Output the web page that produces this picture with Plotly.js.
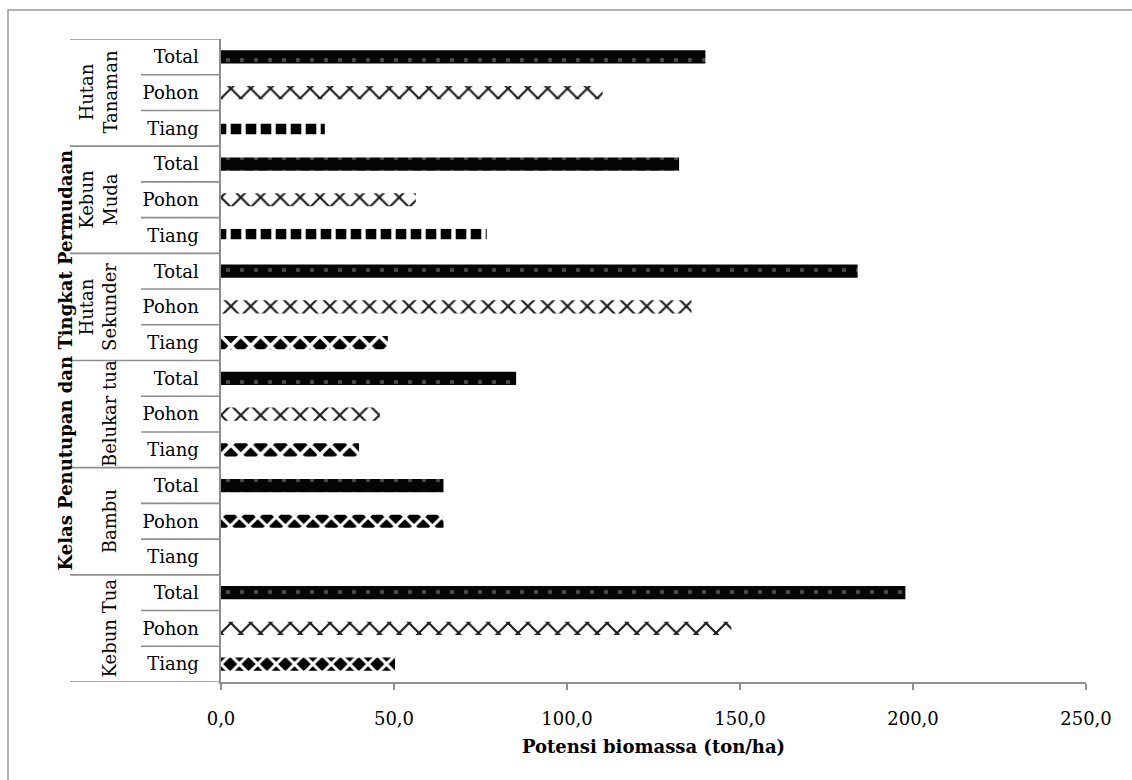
<!DOCTYPE html>
<html>
<head>
<meta charset="utf-8">
<script src="https://cdn.plot.ly/plotly-3.0.1.min.js"></script>
<style>html,body{margin:0;padding:0;background:#fff;}#chart{width:1132px;height:780px;}</style>
</head>
<body>
<div id="chart"></div>
<script>
// ---- data (bottom to top, as drawn) ----
const groups = ['Kebun Tua', 'Bambu', 'Belukar tua', 'Hutan Sekunder', 'Kebun Muda', 'Hutan Tanaman'];
const groupLabels = ['Kebun Tua', 'Bambu', 'Belukar tua', 'Hutan<br>Sekunder', 'Kebun<br>Muda', 'Hutan<br>Tanaman'];
const levels = ['Tiang', 'Pohon', 'Total'];
const tiang = [50.3, null, 39.9, 48.2, 76.8, 30.0];
const pohon = [147.5, 64.3, 45.9, 136.0, 56.3, 110.3];
const total = [197.8, 64.3, 85.3, 184.0, 132.4, 140.0];
const xTickVals = [0, 50, 100, 150, 200, 250];

// pattern style per bar
const tiangStyle = ['diamond', 'diamond', 'spade', 'spade', 'checker', 'checker'];
const pohonStyle = ['x', 'diamond', 'x', 'x', 'x', 'x'];

const styles = {
  total:   {shape: '.', bg: '#050505', fg: '#4a4a4a', size: 14, sol: 0.08},
  x:       {shape: 'x', bg: '#ffffff', fg: '#1a1a1a', size: 14, sol: 0.28},
  checker: {shape: '+', bg: '#000000', fg: '#ffffff', size: 15, sol: 0.5},
  spade:   {shape: 'x', bg: '#000000', fg: '#ffffff', size: 14, sol: 0.45},
  diamond: {shape: 'x', bg: '#000000', fg: '#ffffff', size: 13, sol: 0.4}
};

const yKeys = [], yText = [], xVals = [], styleOf = [];
groups.forEach((g, gi) => {
  const vals = [tiang[gi], pohon[gi], total[gi]];
  const st = [tiangStyle[gi], pohonStyle[gi], 'total'];
  levels.forEach((lv, li) => {
    yKeys.push(g + '|' + lv);
    yText.push(lv);
    xVals.push(vals[li]);
    styleOf.push(st[li]);
  });
});

const traces = Object.keys(styles).map(name => {
  const s = styles[name];
  return {
    type: 'bar', orientation: 'h', name: name,
    y: yKeys,
    x: xVals.map((v, i) => styleOf[i] === name ? v : null),
    marker: {
      color: s.bg, line: {width: 0},
      pattern: {shape: s.shape, fgcolor: s.fg, fgopacity: 1, size: s.size, solidity: s.sol, fillmode: 'overlay'}
    },
    hoverinfo: 'x+y'
  };
});

// ---- layout geometry ----
const ML = 221, MR = 46, MT = 39, MB = 98;
const PW = 1132 - ML - MR, PH = 780 - MT - MB;
const px2paperX = p => (p - ML) / PW;
const px2paperY = p => (780 - MB - p) / PH;
const lineColor = '#8e8e8e';
const font = 'DejaVu Serif, Liberation Serif, serif';

const shapes = [];
const nLv = levels.length;
for (let i = 0; i <= yKeys.length; i++) {
  const isGroup = (i % nLv === 0);
  shapes.push({
    type: 'line', xref: 'paper', yref: 'y',
    x0: px2paperX(isGroup ? 70 : 141), x1: 0,
    y0: i - 0.5, y1: i - 0.5,
    line: {color: lineColor, width: 1.6}
  });
}
shapes.push({
  type: 'rect', xref: 'paper', yref: 'paper',
  x0: px2paperX(8), x1: px2paperX(1160),
  y0: px2paperY(800), y1: px2paperY(10),
  line: {color: '#9a9a9a', width: 1.5}, fillcolor: 'rgba(0,0,0,0)'
});

const annotations = groups.map((g, gi) => {
  const twoLine = groupLabels[gi].indexOf('<br>') >= 0;
  return {
    text: groupLabels[gi], xref: 'paper', yref: 'y',
    x: 0, xshift: twoLine ? -123 : -112, y: gi * nLv + 1,
    xanchor: 'center', yanchor: 'middle', textangle: -90, showarrow: false,
    font: {family: font, size: 18, color: '#000'}
  };
});
annotations.push({
  text: '<b>Kelas Penutupan dan Tingkat Permudaan</b>', xref: 'paper', yref: 'paper',
  x: 0, xshift: -156, y: 0.5, xanchor: 'center', yanchor: 'middle',
  textangle: -90, showarrow: false,
  font: {family: font, size: 18, color: '#000'}
});

const layout = {
  width: 1132, height: 780,
  margin: {l: ML, r: MR, t: MT, b: MB, pad: 0},
  paper_bgcolor: '#ffffff', plot_bgcolor: '#ffffff',
  separators: ',.',
  showlegend: false,
  barmode: 'overlay',
  bargap: 0.63,
  font: {family: font, color: '#000'},
  xaxis: {
    range: [0, 250], tickvals: xTickVals, tickformat: '.1f',
    showgrid: false, zeroline: false,
    showline: true, linecolor: lineColor, linewidth: 1.6,
    ticks: 'outside', ticklen: 6, tickcolor: lineColor, tickwidth: 1.5,
    ticklabelstandoff: 14,
    tickfont: {family: font, size: 18, color: '#000'},
    title: {text: '<b>Potensi biomassa (ton/ha)</b>', font: {family: font, size: 18, color: '#000'}, standoff: 12},
    automargin: false, fixedrange: true
  },
  yaxis: {
    type: 'category', categoryarray: yKeys, categoryorder: 'array',
    tickvals: yKeys, ticktext: yText,
    range: [-0.5, yKeys.length - 0.5],
    showgrid: false, zeroline: false,
    showline: true, linecolor: lineColor, linewidth: 1.6,
    ticks: '', ticklabelstandoff: 17,
    tickfont: {family: font, size: 18, color: '#000'},
    automargin: false, fixedrange: true
  },
  shapes: shapes,
  annotations: annotations
};

Plotly.newPlot('chart', traces, layout, {staticPlot: true, displayModeBar: false});
</script>
</body>
</html>
